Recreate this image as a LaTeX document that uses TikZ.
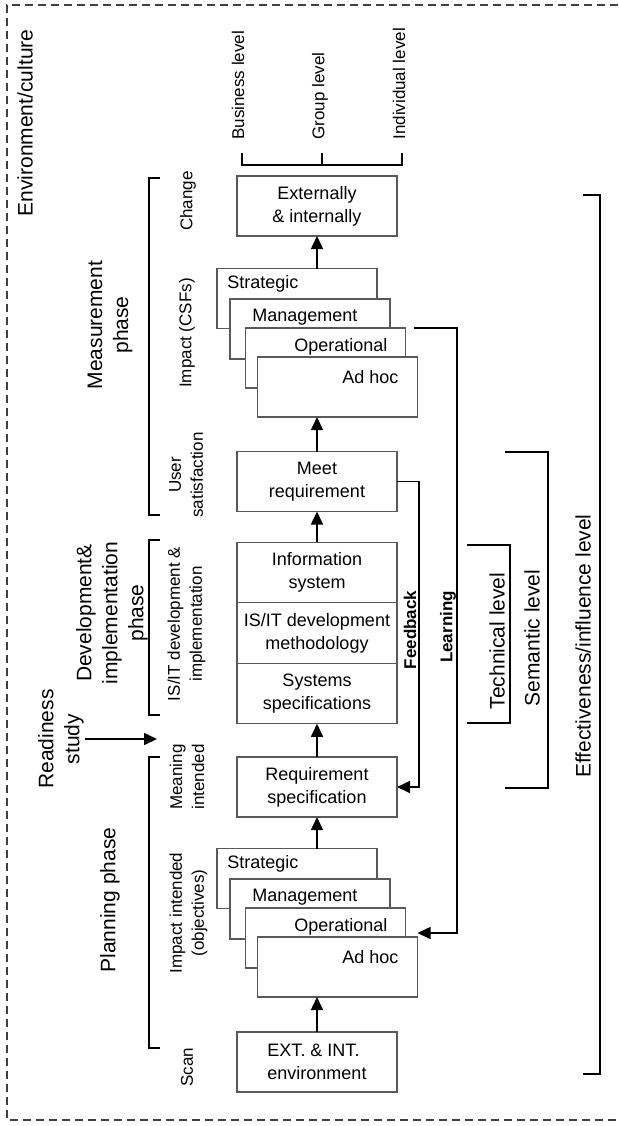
\documentclass[tikz,border=0pt]{standalone}
\usepackage{fontspec}
\setmainfont{Liberation Sans}
\usetikzlibrary{arrows.meta,positioning}

\begin{document}
\begin{tikzpicture}[x=0.5pt,y=-0.5pt,
    box/.style={draw=black!65, line width=0.6pt, fill=white, outer sep=0pt, minimum width=80pt, minimum height=30pt, inner sep=1pt, align=center, font=\fontsize{9}{11.5}\selectfont},
    stxt/.style={inner sep=0pt, font=\fontsize{9}{11.5}\selectfont},
    arr/.style={line width=0.8pt, -{Triangle[length=6.5pt,width=6pt]}},
    brk/.style={line width=0.8pt},
    big/.style={rotate=90, align=center, inner sep=0.5pt, font=\fontsize{10.5}{13}\selectfont},
    side/.style={rotate=90, align=center, inner sep=0.5pt, font=\fontsize{8.5}{11}\selectfont},
    lbl/.style={rotate=90, inner sep=0.5pt, font=\fontsize{8.5}{10}\selectfont\bfseries}]
  \useasboundingbox (0,0) rectangle (618,1126);

  % Environment/culture
  \draw[black!75, line width=0.6pt, dash pattern=on 4pt off 2.5pt] (618,5) -- (7,5) -- (7,1120) -- (618,1120);
  \node[big] (env) at (25,123) {Environment/culture};

  % Levels on top
  \foreach \xx/\nm/\txt in {238/bus/Business level, 320/grp/Group level, 399/ind/Individual level} {
    \node[side, anchor=west] (\nm) at (\xx,141) {\txt};
  }
  \draw[brk] (242,153) -- (242,165) -- (402,165) -- (402,153) (322,165) -- (322,153);

  % Main column
  \node[box] (chg) at (317,206) {Externally\\\& internally};
  \node[box] (meet) at (317,481.5) {Meet\\requirement};
  \node[box, minimum height=30.25pt] (info) at (317,572.5) {Information\\system};
  \node[box, minimum height=30.25pt, below=0pt of info] (meth) {IS/IT development\\methodology};
  \node[box, minimum height=30.25pt, below=0pt of meth] (sysspec) {Systems\\specifications};
  \node[box] (req) at (317,787) {Requirement\\specification};
  \node[box, align=left] (scan) at (317,1062) {EXT. \& INT.\\environment};

  % Stacks: impact (CSFs) and impact intended
  \foreach \stk/\oy in {m/0,p/580} {
    \foreach \nm/\cx/\cy/\tx/\ty/\txt in {S/297/298.5/227/284/Strategic, M/310/329/252/317/Management, O/325.5/358/294/347/Operational, A/337.5/387/342/377/Ad hoc} {
      \node[box] (\stk\nm) at (\cx,\cy+\oy) {};
      \node[stxt, anchor=west] (\stk\nm t) at (\tx,\ty+\oy) {\txt};
    }
  }

  % Arrows up the column
  \draw[arr] (chg.south |- mS.north) -- (chg.south);
  \draw[arr] (meet.north) -- (meet.north |- mA.south);
  \draw[arr] (info.north) -- (meet.south);
  \draw[arr] (req.north) -- (sysspec.south);
  \draw[arr] (req.south |- pS.north) -- (req.south);
  \draw[arr] (scan.north) -- (scan.north |- pA.south);

  % Feedback and learning
  \coordinate (fbTurn) at (419,630);
  \coordinate (lrnTurn) at (457,630);
  \draw[arr] (meet.east) -| (fbTurn) |- (req.east);
  \draw[arr] ([xshift=4pt]mO.north east) -| (lrnTurn) |- ([yshift=2pt]pA.north east);
  \node[lbl] (fbL) at (410,630) {Feedback};
  \node[lbl] (lrnL) at (448,627) {Learning};

  % Phases on the left
  \node[big] (measPh) at (110,325) {Measurement\\phase};
  \node[big] (devPh) at (112,613) {Development\&\\implementation\\phase};
  \node[big] (planPh) at (110,900) {Planning phase};
  \node[big] (rdy) at (61,739) {Readiness\\study};
  \coordinate (rdyEnd) at (157,0);
  \draw[arr] (rdy.south) -- (rdy.south -| rdyEnd);
  \foreach \ya/\yb in {178/515, 540/715, 757/1048} {
    \draw[brk] (160,\ya) -- (149,\ya) -- (149,\yb) -- (160,\yb);
  }

  % Steps
  \node[side] (chgL) at (188,201) {Change};
  \node[side] (impL) at (187,333) {Impact (CSFs)};
  \node[side] (usrL) at (186,475) {User\\satisfaction};
  \node[side] (isitL) at (186.5,624) {IS/IT development \&\\implementation};
  \node[side] (meanL) at (187,777) {Meaning\\intended};
  \node[side] (objL) at (188.5,913) {Impact intended\\(objectives)};
  \node[side] (scanL) at (187,1067) {Scan};

  % Levels on the right
  \foreach \xa/\xb/\ya/\yb in {467/510/545/723, 505/548/452/788, 583/600/195/1074} {
    \draw[brk] (\xa,\ya) -- (\xb,\ya) -- (\xb,\yb) -- (\xa,\yb);
  }
  \node[big] (techL) at (497,641) {Technical level};
  \node[big] (semL) at (532,638) {Semantic level};
  \node[big] (effL) at (583,646) {Effectiveness/influence level};
\end{tikzpicture}
\end{document}
